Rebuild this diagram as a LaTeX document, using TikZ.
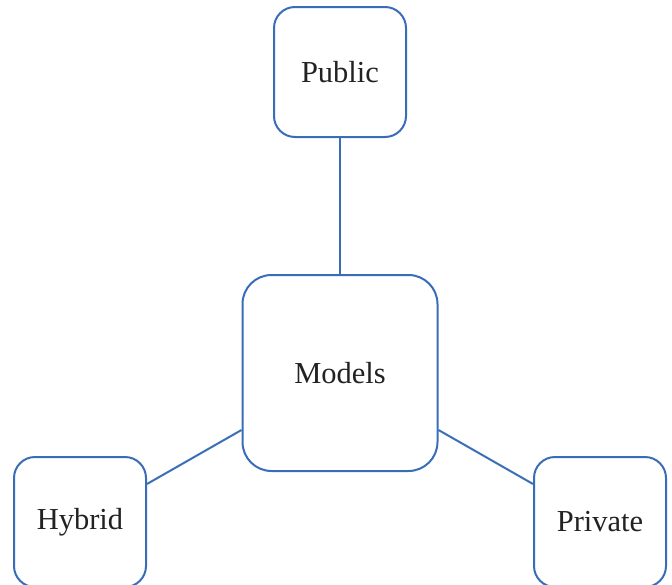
\documentclass[tikz,border=0pt]{standalone}
\usepackage{fontspec}
\setmainfont{Liberation Serif}
\definecolor{edgeblue}{HTML}{3A6DB8}
\definecolor{labelgray}{HTML}{222222}
\begin{document}
\begin{tikzpicture}[x=1pt,y=-1pt,
  box/.style={draw=edgeblue, line width=2pt, fill=white, rounded corners=21pt,
    inner sep=0pt, text=labelgray, font=\fontsize{30.5}{36}\selectfont},
  link/.style={draw=edgeblue, line width=2pt}]
  \useasboundingbox (0,0) rectangle (672,584);
  \begin{scope}
    \clip (0,0) rectangle (672,584);
    \node[box, minimum width=132pt, minimum height=130pt] (public) at (340,72) {Public};
    \node[box, minimum width=195pt, minimum height=196pt, rounded corners=29pt] (models) at (340,373) {Models};
    \node[box, minimum width=132pt, minimum height=130pt] (hybrid) at (80,522) {Hybrid};
    \node[box, minimum width=132pt, minimum height=130pt] (private) at (600,522) {Private};
    \draw[link] (public) -- (models);
    \draw[link] ([yshift=38pt]hybrid.east) -- ([yshift=-57pt]models.west);
    \draw[link] ([yshift=38pt]private.west) -- ([yshift=-57pt]models.east);
  \end{scope}
\end{tikzpicture}
\end{document}
